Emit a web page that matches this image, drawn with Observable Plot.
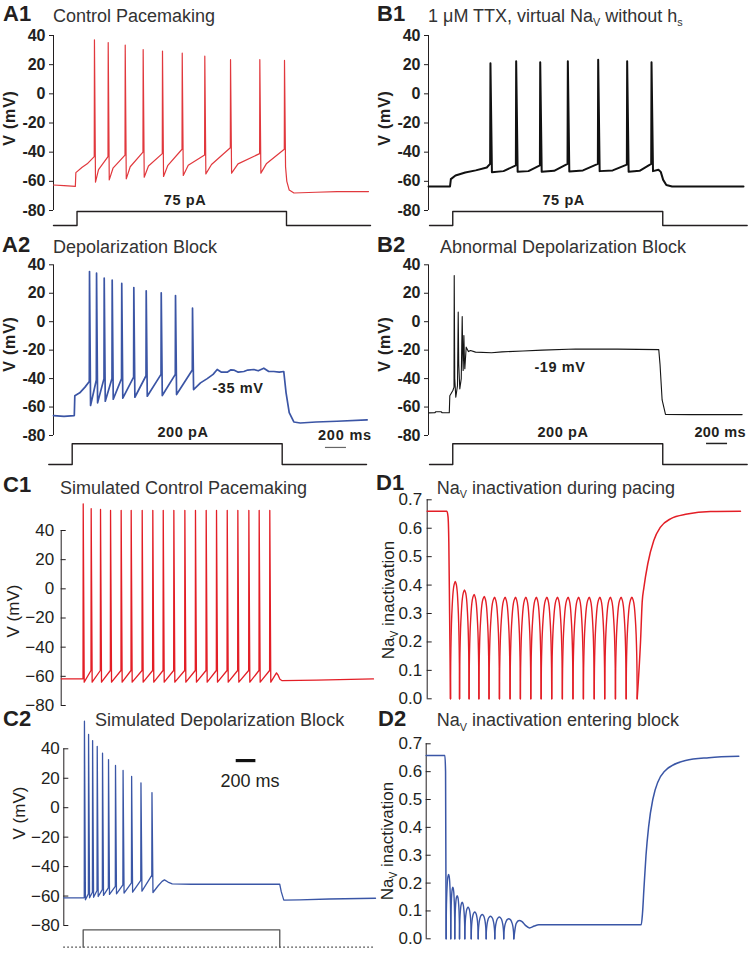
<!DOCTYPE html>
<html><head><meta charset="utf-8">
<script src="https://cdn.jsdelivr.net/npm/d3@7"></script>
<script src="https://cdn.jsdelivr.net/npm/@observablehq/plot@0.6"></script>
<style>
body{margin:0;background:#fff;}
#fig{position:relative;width:749px;height:955px;overflow:hidden;background:#fff;font-family:"Liberation Sans",Arial,Helvetica,sans-serif;}
#fig svg{position:absolute;left:0;top:0;pointer-events:none;}
.t{position:absolute;white-space:nowrap;line-height:1;}
.sb{font-size:0.6em;position:relative;top:0.38em;}
</style></head><body><div id="fig"></div>
<script>
// ================= DATA (time in ms, voltage in mV, inactivation 0..1) =================
// A1 – Control pacemaking (recorded)
const a1Before = [[0,-62.5],[100,-63],[208,-63.5],[213,-54],[273,-50.3],[321,-48]];
const a1SpikeT = [390, 521, 683, 854, 1038, 1226, 1441, 1686, 1965, 2200];
const a1Thresh = [-43, -43, -42, -40, -41, -38, -42, -37, -41, -38];
const a1Peak   = [37, 35.2, 33.4, 30.4, 29.3, 27.9, 25.8, 23.4, 23.4, 22.9];
const a1Trough = [-60.6, -59, -58.3, -57.2, -56.7, -56, -54.9, -54.4, -54.4, -50];
const a1Knee   = [-52, -51, -50, -49.5, -49, -49, -48.5, -48, -48];
const a1After  = [[2222,-60],[2245,-66],[2290,-68],[2500,-67.5],[2700,-67],[3000,-67]];
const a1Stim   = {amp: 75, start: 0, on: 224, off: 2219, end: 3019};

// B1 – 1 µM TTX + virtual Nav without hs
const b1Before = [[0,-63.5],[205,-63.5],[213,-58.5],[257,-56],[350,-54],[450,-52.5],[555,-50.5]];
const b1SpikeT = [590, 835, 1064, 1327, 1616, 1892, 2124];
const b1Thresh = [-48, -49, -49, -48, -48, -48.5, -48];
const b1Peak   = [21, 22.4, 21.7, 22.4, 23.3, 22.4, 21.7];
const b1Trough = [-53.8, -53.5, -53.5, -53.2, -53, -53.5, -53];
const b1Knee   = [-53, -53, -52.8, -52.5, -52.5, -52.8];
const b1After  = [[2190,-52],[2212,-53.5],[2235,-59],[2265,-62.5],[2320,-63.5],[3000,-63.5]];
const b1Stim   = {amp: 75, start: 10, on: 231, off: 2231, end: 3035};

// A2 – Depolarization block (recorded)
const a2Before = [[0,-66],[100,-66.5],[198,-66],[203,-52],[250,-50],[300,-46]];
const a2SpikeT = [343, 410, 483, 559, 650, 765, 883, 1026, 1162, 1324];
const a2Thresh = [-42, -41, -40, -40, -40, -39, -38, -37, -37, -34];
const a2Peak   = [35.3, 34.1, 30.6, 29.2, 26.9, 24, 21.7, 20.3, 18.4, 9.5];
const a2Trough = [-58.9, -57, -55.9, -54.5, -53.8, -53.1, -52.4, -51.9, -51.2, -47.7];
const a2After  = [[1400,-43],[1464,-40],[1520,-37],[1559,-33.6],[1600,-35.5],[1654,-35.5],[1690,-33.8],[1717,-34],[1760,-35.5],[1813,-35],[1850,-34],[1908,-33.6],[1950,-34.5],[2003,-32.7],[2050,-35],[2098,-35],[2150,-35.5],[2193,-35],[2215,-50],[2245,-64],[2289,-70.5],[2350,-71.2],[2500,-70.5],[2700,-70],[2987,-69]];
const a2Stim   = {amp: 200, start: -45, on: 178, off: 2178, end: 2981};

// B2 – Abnormal depolarization block
const b2Trace = [[0,-64.1],[60,-64],[70,-63.3],[120,-63.3],[130,-64],[198,-64],[203,-52],[232,-48.4],[243,-46],[245,32.5],[250,-40],[260,-53.1],[276,-44.9],[283,6.7],[288,-30],[298,-47.2],[312,-40],[321,3.6],[326,-22],[330,-34.3],[337,-9.7],[342,-26],[346,-33.1],[359,-17.9],[380,-21],[400,-20.2],[448,-21.4],[600,-21.8],[700,-21.2],[900,-20.6],[1083,-20],[1400,-19.2],[1800,-19.3],[2193,-19.6],[2205,-30],[2225,-55],[2257,-65.2],[2500,-65.3],[2987,-65.3]];
const b2Stim   = {amp: 200, start: 10, on: 231, off: 2231, end: 3035};

// C1 – Simulated control pacemaking
const c1Before = [[0,-61.7],[222,-61.7]];
const c1SpikeT = [224, 305, 400, 502, 610, 712, 824, 932, 1038, 1146, 1258, 1366, 1475, 1580, 1689, 1797, 1909, 2014, 2122];
const c1Thresh = [-61, -56, -56, -56, -56, -56, -56, -56, -56, -56, -56, -56, -56, -56, -56, -56, -56, -56, -56];
const c1Peak   = [58.3, 54.9, 54.4, 53.7, 53.7, 53.7, 53.7, 53.7, 53.7, 53.7, 53.7, 53.7, 53.7, 53.7, 53.7, 53.7, 53.7, 53.7, 53.7];
const c1Trough = [-64, -64, -64, -64, -64, -64, -64, -64, -64, -64, -64, -64, -64, -64, -64, -64, -64, -64, -64];
const c1After  = [[2190,-57.6],[2205,-59],[2225,-62],[2248,-63],[2600,-62.6],[3177,-61.8]];

// C2 – Simulated depolarization block
const c2Before = [[0,-61.2],[205,-61.2]];
const c2SpikeT = [210, 252, 293, 340, 394, 455, 526, 603, 690, 785, 897];
const c2Thresh = [-61, -58.5, -57.4, -56.2, -55.6, -54.4, -53.5, -52.4, -51, -49.4, -46];
const c2Peak   = [58.7, 49.7, 45.6, 41.6, 37, 32.7, 28.7, 25.3, 21.2, 16.9, 10.3];
const c2Trough = [-62.5, -61.2, -60.8, -60.3, -59.6, -58.9, -58.5, -58, -57.4, -56.7, -57.6];
const c2After  = [[960,-53],[1000,-50],[1024,-49],[1060,-50.5],[1103,-51.7],[1300,-52],[2197,-52],[2212,-57],[2238,-62.8],[2400,-62.6],[2700,-62],[3171,-61.5]];
const c2Stim   = {amp: 1, start: 0, on: 197, off: 2197, end: 3171};

// D1 – Nav inactivation during pacing
const d1Before = [[0,0.66],[200,0.66],[212,0.64],[220,0.55],[228,0.3]];
const d1TroughT = [237, 329, 426, 526, 629, 735, 843, 948, 1054, 1159, 1267, 1375, 1483, 1589, 1699, 1806, 1915, 2024, 2136];
const d1PeakT   = [286, 380, 477, 580, 685, 792, 898, 1003, 1110, 1217, 1325, 1433, 1540, 1648, 1756, 1863, 1972, 2082];
const d1PeakV   = [0.413, 0.383, 0.367, 0.36, 0.357, 0.357, 0.357, 0.357, 0.357, 0.357, 0.357, 0.357, 0.357, 0.357, 0.357, 0.357, 0.357, 0.357];
const d1After   = [[2170,0.2],[2187,0.34],[2204,0.39],[2244,0.475],[2305,0.557],[2373,0.604],[2475,0.633],[2645,0.65],[2882,0.659],[3187,0.66]];

// D2 – Nav inactivation entering block
const d2Before = [[0,0.658],[190,0.658],[197,0.6]];
const d2TroughT = [203, 250, 291, 339, 393, 458, 529, 610, 698, 789, 891];
const d2PeakT   = [228, 271, 315, 366, 426, 494, 570, 654, 744, 840];
const d2PeakV   = [0.231, 0.185, 0.155, 0.131, 0.113, 0.096, 0.087, 0.081, 0.078, 0.072];
const d2After   = [[915,0.055],[945,0.066],[975,0.062],[1010,0.048],[1051,0.039],[1100,0.046],[1146,0.05],[2187,0.05],[2200,0.09],[2215,0.18],[2236,0.3],[2262,0.4],[2305,0.5],[2420,0.6],[2638,0.64],[2875,0.65],[3180,0.655]];

// Shape of one inactivation recovery arch:
// [fraction of trough-to-trough interval (0.5 = peak), fraction of peak height]
const archShape = [[0,0],[0.02,0.3],[0.05,0.47],[0.1,0.64],[0.17,0.78],[0.27,0.91],[0.37,0.97],[0.5,1],[0.63,0.97],[0.73,0.91],[0.83,0.78],[0.9,0.64],[0.95,0.47],[0.98,0.3],[1,0]];

// Axis ticks
const mvTicks = [-80, -60, -40, -20, 0, 20, 40];
const hTicks = [0, 0.1, 0.2, 0.3, 0.4, 0.5, 0.6, 0.7];
const scaleBarMs = 200;

// ================= RENDERING =================
const FONT = '"Liberation Sans", Arial, Helvetica, sans-serif';
const INK = "#231f20";
const RED_A = "#e1383d", RED_S = "#e31e26", BLUE_A = "#3b55a5", BLUE_S = "#3a56a6";
const fig = document.getElementById("fig");

function overlay(x, y, marks) {
  const svg = Plot.plot({
    width: 749, height: 955, margin: 0,
    x: {...x, axis: null}, y: {...y, axis: null},
    style: {background: "transparent", overflow: "visible", fontFamily: FONT},
    marks
  });
  fig.appendChild(svg);
}

// builds a polyline vertex list from spike descriptors
function spikeTrace(before, times, thresh, peak, trough, after, {up = 2, down = 10, knee = null, kneeAt = 0.25} = {}) {
  const pts = before.map(([t, v]) => ({t, v}));
  times.forEach((t, i) => {
    pts.push({t: t - up, v: thresh[i]}, {t, v: peak[i]}, {t: t + down, v: trough[i]});
    if (knee && i < knee.length) pts.push({t: t + down + kneeAt * (times[i + 1] - t), v: knee[i]});
  });
  after.forEach(([t, v]) => pts.push({t, v}));
  return pts;
}

function arches(troughT, peakT, peakV) {
  const out = [];
  peakV.forEach((p, i) => {
    const a = troughT[i], m = peakT[i], b = troughT[i + 1];
    archShape.forEach(([f, h]) => {
      const t = f <= 0.5 ? a + (f / 0.5) * (m - a) : m + ((f - 0.5) / 0.5) * (b - m);
      out.push({k: i, t, v: h * p});
    });
  });
  return out;
}

function axisMarks(ticks, {tickLen, dx, fontSize, fontWeight = "normal", fmt}) {
  return [
    Plot.ruleX([0], {y1: ticks[0], y2: ticks[ticks.length - 1], stroke: INK, strokeWidth: 1}),
    Plot.ruleY(ticks, {x1: 0, x2: tickLen, stroke: INK, strokeWidth: 1}),
    Plot.text(ticks, {x: 0, y: d => d, text: fmt, dx, textAnchor: "end", fontSize, fontWeight, fontFamily: FONT, fill: INK})
  ];
}

function stimMarks(s, color = INK, w = 1.4) {
  const pts = [{t: s.start, i: 0}, {t: s.on, i: 0}, {t: s.on, i: s.amp}, {t: s.off, i: s.amp}, {t: s.off, i: 0}, {t: s.end, i: 0}];
  return [Plot.line(pts, {x: "t", y: "i", stroke: color, strokeWidth: w})];
}

const hy = d => String(d);
const mn = d => (d < 0 ? "\u2212" + (-d) : String(d));
const f1 = d => d.toFixed(1);

const xA = {domain: [0, 3000], range: [53, 368]};
const xB = {domain: [0, 3000], range: [428, 743]};
const yTop = {domain: [-80, 40], range: [210, 35]};
const yMid = {domain: [-80, 40], range: [435, 264.3]};
const abAxis = {tickLen: -38, dx: -8, fontSize: 16, fontWeight: "bold", fmt: hy};

// ---- A1 ----
overlay(xA, yTop, [
  ...axisMarks(mvTicks, abAxis),
  Plot.line(spikeTrace(a1Before, a1SpikeT, a1Thresh, a1Peak, a1Trough, a1After, {knee: a1Knee, kneeAt: 0.22}), {x: "t", y: "v", stroke: RED_A, strokeWidth: 1.2, strokeLinejoin: "round"})
]);
overlay(xA, {domain: [0, 75], range: [225, 211]}, stimMarks(a1Stim));

// ---- B1 ----
overlay(xB, yTop, [
  ...axisMarks(mvTicks, abAxis),
  Plot.line(spikeTrace(b1Before, b1SpikeT, b1Thresh, b1Peak, b1Trough, b1After, {up: 3, down: 14, knee: b1Knee, kneeAt: 0.45}), {x: "t", y: "v", stroke: "#111", strokeWidth: 2, strokeLinejoin: "round"})
]);
overlay(xB, {domain: [0, 75], range: [225, 211]}, stimMarks(b1Stim));

// ---- A2 ----
overlay(xA, yMid, [
  ...axisMarks(mvTicks, abAxis),
  Plot.line(spikeTrace(a2Before, a2SpikeT, a2Thresh, a2Peak, a2Trough, a2After), {x: "t", y: "v", stroke: BLUE_A, strokeWidth: 1.7, strokeLinejoin: "round"}),
  Plot.ruleY([-88.4], {x1: 2590, x2: 2590 + scaleBarMs, stroke: "#666", strokeWidth: 1.2})
]);
overlay(xA, {domain: [0, 200], range: [464, 443.3]}, stimMarks(a2Stim));

// ---- B2 ----
overlay(xB, yMid, [
  ...axisMarks(mvTicks, abAxis),
  Plot.line(b2Trace.map(([t, v]) => ({t, v})), {x: "t", y: "v", stroke: "#151515", strokeWidth: 1.1, strokeLinejoin: "round"}),
  Plot.ruleY([-85.6], {x1: 2648, x2: 2648 + scaleBarMs, stroke: "#222", strokeWidth: 1.5})
]);
overlay(xB, {domain: [0, 200], range: [464, 443.3]}, stimMarks(b2Stim));

// ---- C1 ----
const xC1 = {domain: [0, 3180], range: [60.7, 373.3]};
const xC2 = {domain: [0, 3180], range: [63.3, 375.9]};
overlay(xC1, {domain: [-80, 40], range: [705, 530]}, [
  ...axisMarks(mvTicks, {tickLen: 51, dx: -7, fontSize: 17, fmt: mn}),
  Plot.line(spikeTrace(c1Before, c1SpikeT, c1Thresh, c1Peak, c1Trough, c1After), {x: "t", y: "v", stroke: RED_S, strokeWidth: 1.3, strokeLinejoin: "round"})
]);

// ---- C2 ----
overlay(xC2, {domain: [-80, 40], range: [925, 748.3]}, [
  ...axisMarks(mvTicks, {tickLen: 51, dx: -4, fontSize: 17, fmt: mn}),
  Plot.line(spikeTrace(c2Before, c2SpikeT, c2Thresh, c2Peak, c2Trough, c2After), {x: "t", y: "v", stroke: BLUE_S, strokeWidth: 1.3, strokeLinejoin: "round"}),
  Plot.ruleY([32], {x1: 1754, x2: 1754 + scaleBarMs, stroke: "#111", strokeWidth: 3.2})
]);
overlay(xC2, {domain: [0, 1], range: [946.7, 929.3]}, [
  Plot.ruleY([0], {x1: c2Stim.start, x2: c2Stim.end, stroke: "#333", strokeWidth: 1.3, strokeDasharray: "1.5,2.5"}),
  Plot.line([{t: c2Stim.on, i: 0}, {t: c2Stim.on, i: 1}, {t: c2Stim.off, i: 1}, {t: c2Stim.off, i: 0}], {x: "t", y: "i", stroke: "#555", strokeWidth: 1.3})
]);

// ---- D panels ----
function dMarks(before, troughT, peakT, peakV, after, color) {
  const first = [...before.map(([t, v]) => ({t, v})), {t: troughT[0], v: 0}];
  const last = [{t: troughT[troughT.length - 1], v: 0}, ...after.map(([t, v]) => ({t, v}))];
  return [
    Plot.line(first, {x: "t", y: "v", stroke: color, strokeWidth: 1.5, curve: "monotone-x"}),
    Plot.line(arches(troughT, peakT, peakV), {x: "t", y: "v", z: "k", stroke: color, strokeWidth: 1.4, curve: "catmull-rom"}),
    Plot.line(last, {x: "t", y: "v", stroke: color, strokeWidth: 1.5, curve: "monotone-x"})
  ];
}
overlay({domain: [0, 3180], range: [426.7, 739.3]}, {domain: [0, 0.7], range: [698.3, 499.3]}, [
  ...axisMarks(hTicks, {tickLen: 51, dx: -5, fontSize: 17, fmt: f1}),
  ...dMarks(d1Before, d1TroughT, d1PeakT, d1PeakV, d1After, RED_S)
]);
overlay({domain: [0, 3180], range: [425.7, 738.3]}, {domain: [0, 0.7], range: [938.3, 743.3]}, [
  ...axisMarks(hTicks, {tickLen: 51, dx: -4, fontSize: 17, fmt: f1}),
  ...dMarks(d2Before, d2TroughT, d2PeakT, d2PeakV, d2After, BLUE_S)
]);

// ================= TEXT =================
function txt(html, x, y, o = {}) {
  const {size = 18, weight = "normal", anchor = "start", color = INK, rotate = false, ls = 0} = o;
  const el = document.createElement("div");
  el.className = "t";
  el.innerHTML = html;
  Object.assign(el.style, {fontSize: size + "px", fontWeight: weight, color, letterSpacing: ls + "px", left: x + "px"});
  if (rotate) {
    el.style.top = y + "px";
    el.style.transform = "translate(-50%,-50%) rotate(-90deg)";
  } else {
    el.style.top = (y - 0.847 * size) + "px";
    if (anchor === "middle") el.style.transform = "translateX(-50%)";
    if (anchor === "end") el.style.transform = "translateX(-100%)";
  }
  fig.appendChild(el);
}
const L = {size: 22, weight: "bold"};
const T = {size: 18, color: "#333"};
txt("A1", 3, 22, L); txt("Control Pacemaking", 53, 22.5, T);
txt("B1", 377, 22, L); txt('1 \u03bcM TTX, virtual Na<span class="sb">V</span> without h<span class="sb">s</span>', 428, 22.5, T);
txt("A2", 2, 253, L); txt("Depolarization Block", 53, 253, T);
txt("B2", 377, 253, L); txt("Abnormal Depolarization Block", 440, 253, T);
txt("C1", 3, 493, L); txt("Simulated Control Pacemaking", 60, 494, T);
txt("D1", 376, 490.5, L); txt('Na<span class="sb">V</span> inactivation during pacing', 436.7, 494, T);
txt("C2", 3, 726.5, L); txt("Simulated Depolarization Block", 95, 726.7, T);
txt("D2", 378, 726.5, L); txt('Na<span class="sb">V</span> inactivation entering block', 436.7, 726.7, T);

const YB = {size: 16, weight: "bold", rotate: true, ls: 0.8};
txt("V (mV)", 10, 118, YB); txt("V (mV)", 385, 118, YB);
txt("V (mV)", 10, 343.5, YB); txt("V (mV)", 385, 343.5, YB);
txt("V (mV)", 13, 611, {size: 17, rotate: true});
txt("V (mV)", 19, 813, {size: 17, rotate: true});
txt('Na<span class="sb">V</span> inactivation', 388, 600, {size: 17, rotate: true});
txt('Na<span class="sb">V</span> inactivation', 387, 841, {size: 17, rotate: true});

const AN = {size: 14.5, weight: "bold", anchor: "middle", ls: 0.6};
txt("75 pA", 185, 205, AN); txt("75 pA", 563.7, 205, AN);
txt("200 pA", 183, 437, AN); txt("200 pA", 563, 437, AN);
txt("-35 mV", 238, 393, AN); txt("-19 mV", 560, 372, AN);
txt("200 ms", 318, 440, {size: 14.5, weight: "bold", ls: 0.8});
txt("200 ms", 746, 437, {size: 14.5, weight: "bold", ls: 0.4, anchor: "end"});
txt("200 ms", 250, 787, {size: 18, anchor: "middle"});
</script></body></html>
